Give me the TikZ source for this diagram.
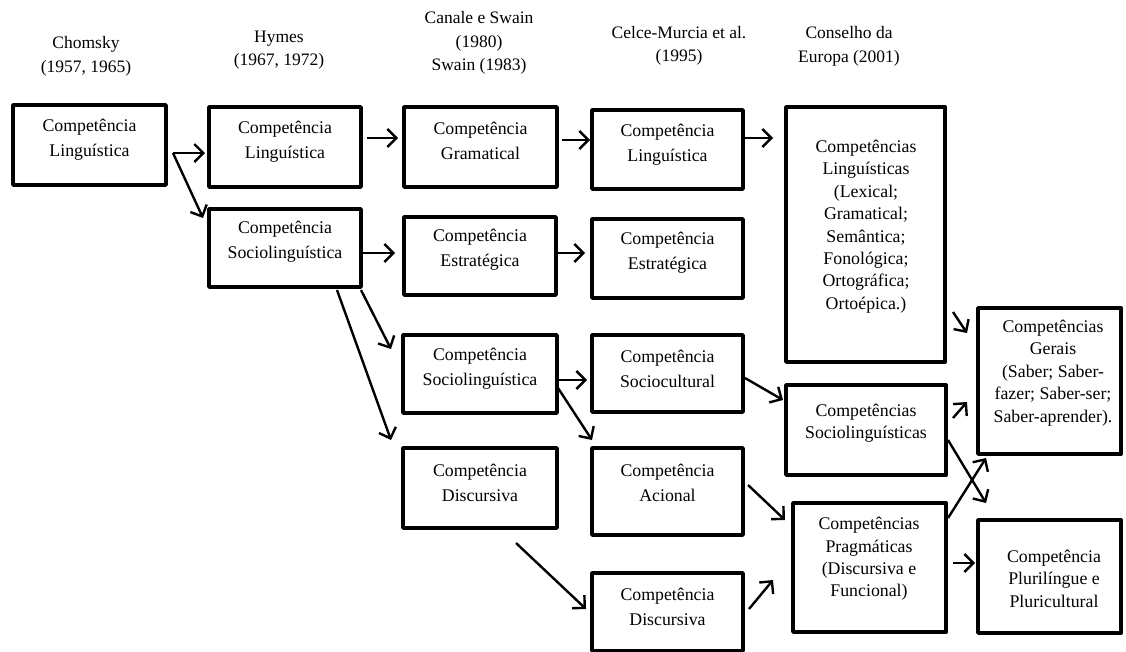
\documentclass[tikz,border=0pt]{standalone}
\usepackage{fontspec}
\setmainfont{Liberation Serif}
\usetikzlibrary{arrows.meta,calc}
\begin{document}
\begin{tikzpicture}[x=1pt,y=-1pt,
  box/.style={draw,line width=3.8pt,line join=round,inner sep=0pt,outer sep=0pt},
  txt/.style={align=center,inner sep=0pt,font=\fontsize{17.8}{25}\selectfont},
  txtm/.style={align=center,inner sep=0pt,font=\fontsize{17.8}{22.4}\selectfont},
  hdr/.style={align=center,inner sep=0pt,font=\fontsize{17.5}{23.5}\selectfont},
  arr/.style={line width=2.4pt,-{Straight Barb[length=9pt,width=18pt,line width=2.4pt]}}]
\useasboundingbox (0,0) rectangle (1126,651);
% headers
\node[hdr] (h1) at (86,56.5) {Chomsky\\(1957, 1965)};
\node[hdr] (h2) at (279,50) {Hymes\\(1967, 1972)};
\node[hdr] (h3) at (479,43) {Canale e Swain\\(1980)\\Swain (1983)};
\node[hdr] (h4) at (679,46) {Celce-Murcia et al.\\(1995)};
\node[hdr] (h5) at (849,46.5) {Conselho da\\Europa (2001)};
% boxes
\node[box,minimum width=153,minimum height=80] (ch) at (89.5,145) {};
\node[box,minimum width=152,minimum height=80] (hl) at (285,147) {};
\node[box,minimum width=152,minimum height=78] (hs) at (285,248) {};
\node[box,minimum width=153,minimum height=80] (cg) at (480.5,147) {};
\node[box,minimum width=152,minimum height=78] (ce) at (480,256) {};
\node[box,minimum width=154,minimum height=78] (cs) at (480,374) {};
\node[box,minimum width=154,minimum height=80] (cd) at (480,488) {};
\node[box,minimum width=151,minimum height=79] (ml) at (667.5,149.5) {};
\node[box,minimum width=151,minimum height=79] (me) at (667.5,258.5) {};
\node[box,minimum width=151,minimum height=77] (ms) at (667.5,373.5) {};
\node[box,minimum width=151,minimum height=87] (ma) at (667.5,491.5) {};
\node[box,minimum width=151,minimum height=78] (md) at (667.5,612) {};
\node[box,minimum width=159,minimum height=255] (kl) at (865.5,234.5) {};
\node[box,minimum width=160,minimum height=90] (ks) at (866,430) {};
\node[box,minimum width=153,minimum height=129] (kp) at (869.5,567.5) {};
\node[box,minimum width=143,minimum height=146] (kg) at (1049.5,381) {};
\node[box,minimum width=143,minimum height=113] (kq) at (1049.5,576.5) {};
% texts
\node[txt] (tch) at (89.5,139.5) {Competência\\Linguística};
\node[txt] (thl) at (285,142) {Competência\\Linguística};
\node[txt] (ths) at (285,242) {Competência\\Sociolinguística};
\node[txt] (tcg) at (480.5,141) {Competência\\Gramatical};
\node[txt] (tce) at (480,250) {Competência\\Estratégica};
\node[txt] (tcs) at (480,368.5) {Competência\\Sociolinguística};
\node[txt] (tcd) at (480,483) {Competência\\Discursiva};
\node[txt] (tml) at (667.5,144.5) {Competência\\Linguística};
\node[txt] (tme) at (667.5,253) {Competência\\Estratégica};
\node[txt] (tms) at (667.5,368.5) {Competência\\Sociocultural};
\node[txt] (tma) at (667.5,482.5) {Competência\\Acional};
\node[txt] (tmd) at (667.5,606.5) {Competência\\Discursiva};
\node[txtm] (tkl) at (866,226.5) {Competências\\Linguísticas\\(Lexical;\\Gramatical;\\Semântica;\\Fonológica;\\Ortográfica;\\Ortoépica.)};
\node[txtm] (tks) at (866,423.5) {Competências\\Sociolinguísticas};
\node[txtm] (tkp) at (869,559) {Competências\\Pragmáticas\\(Discursiva e\\Funcional)};
\node[txtm] (tkg) at (1053,373) {Competências\\Gerais\\(Saber; Saber-\\fazer; Saber-ser;\\Saber-aprender).};
\node[txtm] (tkq) at (1054,578.5) {Competência\\Plurilíngue e\\Pluricultural};
% arrows
\draw[arr] ($(ch.east)+(7,8)$) -- ($(hl.west)+(-4,6)$);
\draw[arr] ($(ch.east)+(7,8)$) -- ($(hs.north west)+(-6,9)$);
\draw[arr] ($(hl.east)+(6,-9)$) -- ($(cg.west)+(-6,-9)$);
\draw[arr] ($(hs.east)+(2,5)$) -- ($(ce.west)+(-9,-3)$);
\draw[arr] ($(hs.south east)+(0,3)$) -- ($(cs.north west)+(-12,14)$);
\draw[arr] ($(hs.south east)+(-24,3)$) -- ($(cd.north west)+(-12,-8)$);
\draw[arr] ($(cg.east)+(5,-7)$) -- ($(ml.west)+(-2,-9.5)$);
\draw[arr] ($(ce.east)+(2,-3)$) -- ($(me.west)+(-7,-5.5)$);
\draw[arr] ($(cs.east)+(0,6)$) -- ($(ms.west)+(-5,6.5)$);
\draw[arr] ($(cs.east)+(1,14)$) -- ($(ma.north west)+(0,-8)$);
\draw[arr] ($(cd.south)+(36,15)$) -- ($(md.west)+(-6,-3)$);
\draw[arr] ($(ml.east)+(2,-11.5)$) -- ($(kl.north west)+(-13,31)$);
\draw[arr] ($(ms.east)+(2,4.5)$) -- ($(ks.north west)+(-3,15)$);
\draw[arr] ($(ma.east)+(5,-6.5)$) -- ($(kp.north west)+(-8,17)$);
\draw[arr] ($(md.east)+(6,-3)$) -- ($(kp.west)+(-20,12.5)$);
\draw[arr] ($(kl.south east)+(8,-50)$) -- ($(kg.north west)+(-11,25)$);
\draw[arr] ($(ks.east)+(7,-12)$) -- ($(kg.west)+(-11,21)$);
\draw[arr] ($(ks.east)+(2,10)$) -- ($(kq.north west)+(8,-17)$);
\draw[arr] ($(kp.north east)+(2,15)$) -- ($(kg.south west)+(8,4)$);
\draw[arr] ($(kp.east)+(7,-4.5)$) -- ($(kq.west)+(-3,-13.5)$);
\end{tikzpicture}
\end{document}
